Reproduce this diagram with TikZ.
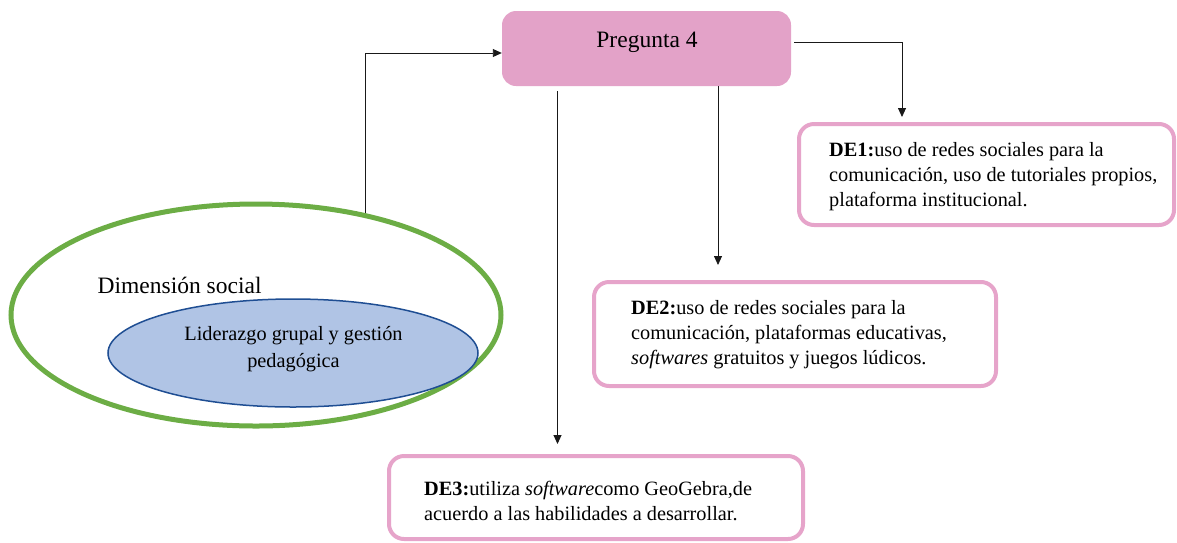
\documentclass[tikz,border=0pt]{standalone}
\usepackage{fontspec}
\setmainfont{Liberation Serif}
\usetikzlibrary{arrows.meta,shapes.geometric}
\definecolor{pinkfill}{HTML}{E3A2C8}
\definecolor{pinkline}{HTML}{E6A4CA}
\definecolor{greenline}{HTML}{6CAD45}
\definecolor{bluefill}{HTML}{B0C4E5}
\definecolor{blueline}{HTML}{1F4E93}
\tikzset{
  conn/.style={draw=black!90, line width=0.9pt, -{Triangle[length=9pt,width=8pt]}},
  pbox/.style={rectangle, rounded corners=14pt, fill=pinkfill, draw=none, minimum width=289pt, minimum height=75pt, inner sep=0pt},
  debox/.style={rectangle, rounded corners=15pt, draw=pinkline, line width=4pt, fill=white, inner sep=0pt},
  bigtxt/.style={font=\fontsize{23.5}{28}\selectfont, inner sep=0pt},
  smalltxt/.style={font=\fontsize{20.3}{25}\selectfont, inner sep=0pt, align=left},
  ctrtxt/.style={font=\fontsize{20.3}{27}\selectfont, inner sep=0pt, align=center},
}
\begin{document}
\begin{tikzpicture}[x=1pt,y=-1pt]
\useasboundingbox (0,0) rectangle (1177,542);
% Pregunta box
\node[pbox] (p4) at (646.5,48.5) {};
\node[bigtxt] (p4t) at (647,42) {Pregunta 4};
% ellipses
\node[ellipse, draw=greenline, line width=5pt, minimum width=490pt, minimum height=222pt, inner sep=0pt] (dim) at (256,315) {};
\node[bigtxt, anchor=base west] (dimt) at (97.5,293) {Dimensión social};
\node[ellipse, draw=blueline, fill=bluefill, line width=1.5pt, minimum width=370pt, minimum height=108pt, inner sep=0pt] (lid) at (293,353) {};
\node[ctrtxt] (lidt) at (293.5,349) {Liderazgo grupal y gestión\\pedagógica};
% DE boxes
\node[debox, minimum width=375pt, minimum height=101pt] (de1) at (986.5,174.5) {};
\node[smalltxt, anchor=west] (de1t) at (829,177) {\textbf{DE1:}uso de redes sociales para la\\comunicación, uso de tutoriales propios,\\plataforma institucional.};
\node[debox, minimum width=402pt, minimum height=104pt] (de2) at (795,334) {};
\node[smalltxt, anchor=west] (de2t) at (631,334.5) {\textbf{DE2:}uso de redes sociales para la\\comunicación, plataformas educativas,\\\textit{softwares} gratuitos y juegos lúdicos.};
\node[debox, minimum width=414pt, minimum height=83pt] (de3) at (596,497.5) {};
\node[smalltxt, anchor=west] (de3t) at (424,501) {\textbf{DE3:}utiliza \textit{software}como GeoGebra,de\\acuerdo a las habilidades a desarrollar.};
% connectors
\draw[conn] (dim.43) |- ([yshift=-4.5pt]p4.west);
\draw[conn, shorten >=5pt] ([xshift=3pt,yshift=6.5pt]p4.east) -| ([xshift=-84.5pt]de1.north);
\coordinate (m1) at ([xshift=71.5pt]p4.south);
\draw[conn, shorten >=15pt] (m1) -- (m1 |- de2.north);
\coordinate (m2) at ([xshift=-89pt,yshift=-5pt]p4.south);
\draw[conn, shorten >=10pt] (m2) -- (m2 |- de3.north);
\end{tikzpicture}
\end{document}
